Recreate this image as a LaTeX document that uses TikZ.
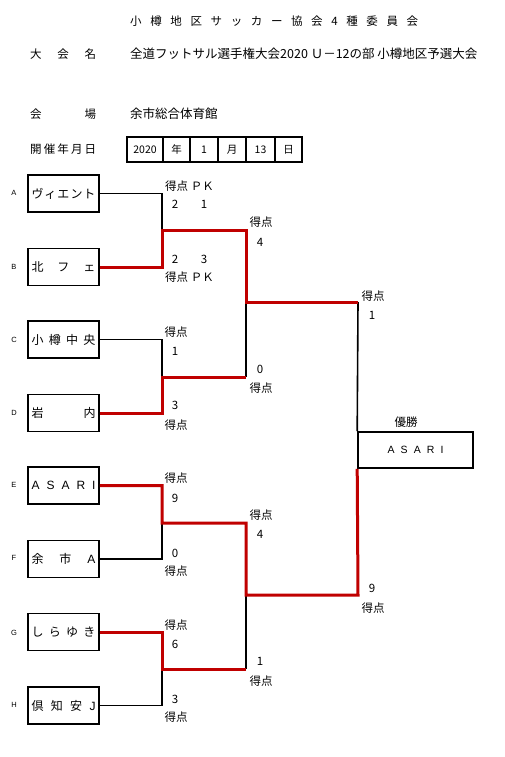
\documentclass[tikz,border=0pt]{standalone}
\usepackage{fontspec}
\setmainfont{Noto Sans CJK JP}
\newfontfamily\latinf{Liberation Sans}
\begin{document}
\begin{tikzpicture}[x=1pt,y=-1pt,
  txt/.style={inner sep=0pt,font=\fontsize{11.5}{13}\selectfont},
  hdr/.style={inner sep=0pt,font=\fontsize{11.5}{13}\selectfont,anchor=west},
  lab/.style={inner sep=0pt,font=\latinf\fontsize{7.5}{8}\selectfont},
  team/.style={draw,line width=1.6pt,minimum width=71pt,minimum height=37pt,inner sep=0pt,font=\fontsize{12}{14}\selectfont},
  cell/.style={draw,line width=1.8pt,minimum height=25pt,inner sep=0pt,font=\fontsize{10.5}{12}\selectfont},
  blk/.style={line width=1.6pt,black},
  win/.style={line width=3pt,color=redc},
]
\definecolor{redc}{HTML}{C00000}
\useasboundingbox (0,0) rectangle (504,757);
% header
\node[hdr] (h1) at (130,21) {\makebox[288pt]{小\hfill 樽\hfill 地\hfill 区\hfill サ\hfill ッ\hfill カ\hfill ー\hfill 協\hfill 会\hfill 4\hfill 種\hfill 委\hfill 員\hfill 会}};
\node[hdr] (h2) at (30,54) {\makebox[66pt]{大\hfill 会\hfill 名}};
\node[hdr,font=\fontsize{12.5}{14}\selectfont] (h3) at (130,54) {全道フットサル選手権大会2020 Ｕ－12の部 小樽地区予選大会};
\node[hdr] (h4) at (30,114) {\makebox[66pt]{会\hfill 場}};
\node[hdr,font=\fontsize{12.5}{14}\selectfont] (h5) at (130,114) {余市総合体育館};
\node[hdr] (h6) at (30,149) {\makebox[66pt]{開\hfill 催\hfill 年\hfill 月\hfill 日}};
% date cells
\node[cell,minimum width=36pt] (d1) at (145,149.5) {2020};
\node[cell,minimum width=27pt] (d2) at (176.5,149.5) {年};
\node[cell,minimum width=28pt] (d3) at (204,149.5) {1};
\node[cell,minimum width=28pt] (d4) at (232,149.5) {月};
\node[cell,minimum width=29pt] (d5) at (260.5,149.5) {13};
\node[cell,minimum width=27pt] (d6) at (288.5,149.5) {日};
% letters
\node[lab] (lA) at (14,193) {A};
\node[lab] (lB) at (14,267) {B};
\node[lab] (lC) at (14,340) {C};
\node[lab] (lD) at (14,413) {D};
\node[lab] (lE) at (14,485) {E};
\node[lab] (lF) at (14,558) {F};
\node[lab] (lG) at (14,633) {G};
\node[lab] (lH) at (14,705) {H};
% teams
\node[team] (A) at (63.5,193.5) {\makebox[64pt]{ヴ\hfill ィ\hfill エ\hfill ン\hfill ト}};
\node[team] (B) at (63.5,267) {\makebox[64pt]{北\hfill フ\hfill ェ}};
\node[team] (C) at (63.5,339.5) {\makebox[64pt]{小\hfill 樽\hfill 中\hfill 央}};
\node[team] (D) at (63.5,413) {\makebox[64pt]{岩\hfill 内}};
\node[team] (E) at (63.5,485.5) {\makebox[64pt]{\latinf A\hfill S\hfill A\hfill R\hfill I}};
\node[team] (F) at (63.5,559) {\makebox[64pt]{余\hfill 市\hfill \latinf A}};
\node[team] (G) at (63.5,632) {\makebox[64pt]{し\hfill ら\hfill ゆ\hfill き}};
\node[team] (H) at (63.5,705.5) {\makebox[64pt]{倶\hfill 知\hfill 安\hfill \latinf J}};
% winner
\node[txt] (wl) at (406,422) {優勝};
\node[team,minimum width=115pt,minimum height=36pt] (W) at (415.5,450) {\makebox[56pt]{\latinf\fontsize{10.5}{12}\selectfont A\hfill S\hfill A\hfill R\hfill I}};
% join points
\coordinate (ab) at (162,230);
\coordinate (cd) at (162,377);
\coordinate (ef) at (162,523);
\coordinate (gh) at (162,669);
\coordinate (abR) at (246,230);
\coordinate (cdR) at (246,377);
\coordinate (efR) at (246,523);
\coordinate (ghR) at (246,669);
\coordinate (abcd) at (246,302);
\coordinate (efgh) at (246,595);
\coordinate (fT) at (358,302);
\coordinate (fB) at (358,595);
% black lines
\draw[blk] (A.east) -| (ab);
\draw[blk] (C.east) -| (cd);
\draw[blk] (F.east) -| (ef);
\draw[blk] (H.east) -| (gh);
\draw[blk] (abcd) -- (cdR);
\draw[blk] (efgh) -- (ghR);
\draw[blk] (fT) -- (W.north west);
% red lines
\draw[win] (B.east) -| (ab) -- (abR) -- (abcd) -- (fT);
\draw[win] (D.east) -| (cd) -- (cdR);
\draw[win] (E.east) -| (ef) -- (efR) -- (efgh) -- (fB) -- (W.south west);
\draw[win] (G.east) -| (gh) -- (ghR);
% scores AB
\node[txt,anchor=west] (s1) at (165,186) {得点 ＰＫ};
\node[txt] (s2) at (175,204) {2};
\node[txt] (s3) at (204,204) {1};
\node[txt] (s4) at (175,259) {2};
\node[txt] (s5) at (204,259) {3};
\node[txt,anchor=west] (s6) at (165,277) {得点 ＰＫ};
% CD
\node[txt] (s7) at (176,332) {得点};
\node[txt] (s8) at (175,351) {1};
\node[txt] (s9) at (175,405) {3};
\node[txt] (s10) at (176,425) {得点};
% EF
\node[txt] (s11) at (176,478) {得点};
\node[txt] (s12) at (175,498) {9};
\node[txt] (s13) at (175,553) {0};
\node[txt] (s14) at (176,571) {得点};
% GH
\node[txt] (s15) at (176,625) {得点};
\node[txt] (s16) at (175,644) {6};
\node[txt] (s17) at (175,699) {3};
\node[txt] (s18) at (176,717) {得点};
% semis
\node[txt] (s19) at (261,222) {得点};
\node[txt] (s20) at (260,242) {4};
\node[txt] (s21) at (260,369) {0};
\node[txt] (s22) at (261,388) {得点};
\node[txt] (s23) at (261,515) {得点};
\node[txt] (s24) at (260,534) {4};
\node[txt] (s25) at (260,661) {1};
\node[txt] (s26) at (261,681) {得点};
% final
\node[txt] (s27) at (373,296) {得点};
\node[txt] (s28) at (372,315) {1};
\node[txt] (s29) at (372,588) {9};
\node[txt] (s30) at (373,608) {得点};
\end{tikzpicture}
\end{document}
